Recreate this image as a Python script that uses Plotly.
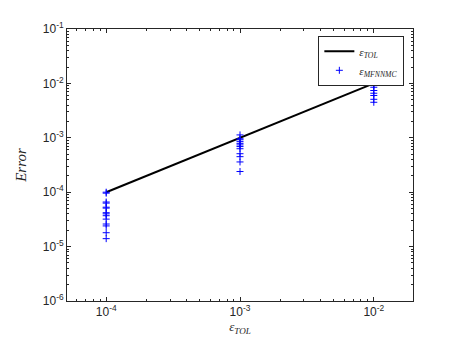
import plotly.graph_objects as go

# tolerance levels and the reference line
tol = [1e-4, 1e-3, 1e-2]

err_1e4 = [1.0e-4, 9.6e-5, 6.6e-5, 6.3e-5, 5.3e-5, 5.1e-5, 4.2e-5, 4.0e-5,
           3.7e-5, 3.2e-5, 2.6e-5, 2.4e-5, 1.8e-5, 1.4e-5]
err_1e3 = [1.13e-3, 9.6e-4, 9.2e-4, 8.5e-4, 7.9e-4, 7.4e-4, 6.9e-4, 6.3e-4,
           5.1e-4, 4.5e-4, 3.6e-4, 2.4e-4]
err_1e2 = [1.15e-2, 1.08e-2, 9.6e-3, 9.2e-3, 8.5e-3, 7.4e-3, 6.6e-3, 6.0e-3,
           5.1e-3, 4.5e-3]

y_tickvals = [1e-6, 1e-5, 1e-4, 1e-3, 1e-2, 1e-1]
y_ticktext = ["10<sup>-6</sup>", "10<sup>-5</sup>", "10<sup>-4</sup>",
              "10<sup>-3</sup>", "10<sup>-2</sup>", "10<sup>-1</sup>"]
x_tickvals = [1e-4, 1e-3, 1e-2]
x_ticktext = ["10<sup>-4</sup>", "10<sup>-3</sup>", "10<sup>-2</sup>"]

mc_x = [tol[0]] * len(err_1e4) + [tol[1]] * len(err_1e3) + [tol[2]] * len(err_1e2)
mc_y = err_1e4 + err_1e3 + err_1e2

fig = go.Figure()
fig.add_trace(go.Scatter(
    x=tol, y=tol, mode="lines",
    line=dict(color="black", width=2),
    name="<i>ε<sub>TOL</sub></i>",
))
fig.add_trace(go.Scatter(
    x=mc_x, y=mc_y, mode="markers",
    marker=dict(symbol="cross-thin", size=5, line=dict(color="#0000ff", width=1)),
    name="<i>ε<sub>MFNNMC</sub></i>",
))

axis_common = dict(
    type="log",
    showgrid=False,
    zeroline=False,
    showline=True,
    linecolor="#262626",
    linewidth=1,
    mirror="ticks",
    ticks="inside",
    ticklen=4,
    tickcolor="#262626",
    minor=dict(ticks="inside", ticklen=2, dtick="D1", tickcolor="#262626", showgrid=False),
    tickfont=dict(family="Liberation Sans, Arial", size=12, color="#262626"),
)

fig.update_xaxes(
    **axis_common,
    range=[-4.293, -1.707],
    tickvals=x_tickvals, ticktext=x_ticktext,
    title=dict(text="<i>ε<sub>TOL</sub></i>", standoff=2,
               font=dict(family="Liberation Serif, Times New Roman", size=13, color="#262626")),
)
fig.update_yaxes(
    **axis_common,
    range=[-6, -1],
    tickvals=y_tickvals, ticktext=y_ticktext,
    title=dict(text="<i>Error</i>", standoff=12,
               font=dict(family="Liberation Serif, Times New Roman", size=15, color="#262626")),
)

# page body adds an 8px offset, so margins are trimmed to match the reference frame
fig.update_layout(
    width=457, height=343,
    margin=dict(l=52, r=52, t=18, b=50),
    paper_bgcolor="white",
    plot_bgcolor="white",
    showlegend=True,
    legend=dict(
        x=0.975, y=0.975, xanchor="right", yanchor="top",
        bgcolor="white", bordercolor="#262626", borderwidth=1,
        font=dict(family="Liberation Serif, Times New Roman", size=11, color="#262626"),
        itemwidth=30, tracegroupgap=0,
    ),
)

fig.write_html("out.html")
